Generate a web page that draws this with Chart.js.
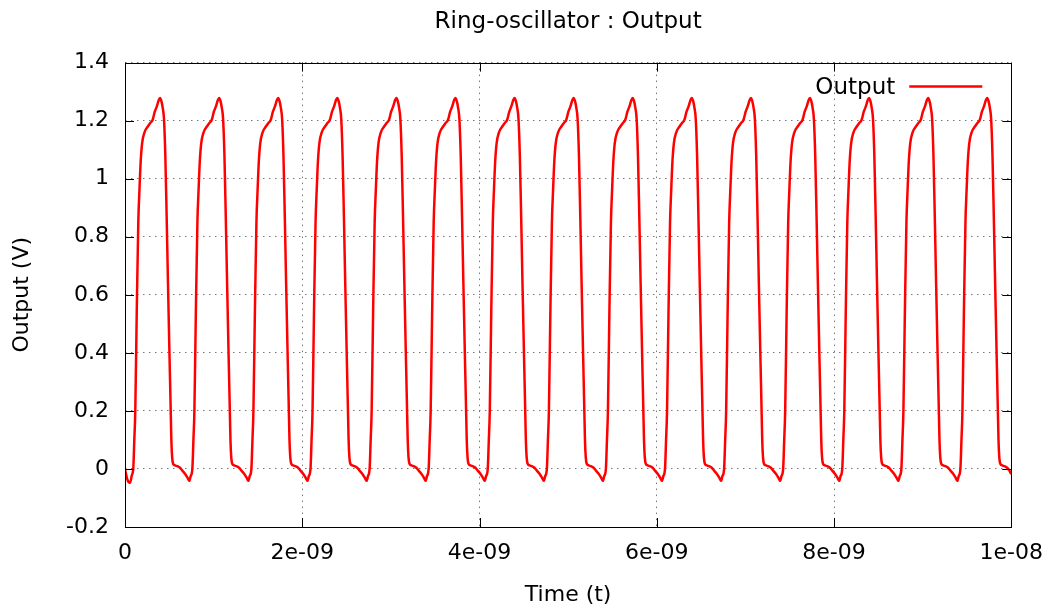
<!DOCTYPE html>
<html lang="en">
<head>
  <meta charset="UTF-8">
  <title>Ring-oscillator : Output</title>
  <script src="https://cdn.jsdelivr.net/npm/chart.js"></script>
  <style>
    body { margin: 0; background: #fff; }
    #wrap { width: 1056px; height: 610px; }
  </style>
</head>
<body>
  <div id="wrap"><canvas id="osc"></canvas></div>

  <script>
    // time axis runs in ns, labels printed in seconds like gnuplot does
    const xTickLabels = ["0", "2e-09", "4e-09", "6e-09", "8e-09", "1e-08"];
    const yTickLabels = ["-0.2", "0", "0.2", "0.4", "0.6", "0.8", "1", "1.2", "1.4"];

    // start-up dip before the first pulse (ns, V)
    const startTimes = [0, 0.025, 0.056, 0.072];
    const startVolts = [0, -0.035, -0.048, -0.03];

    // peak time of every pulse (ns)
    const peakTimes = [0.395, 1.062, 1.728, 2.395, 3.062, 3.728, 4.395, 5.062,
                       5.728, 6.395, 7.062, 7.728, 8.395, 9.062, 9.728];

    // shape of one pulse: offset from its peak (ns) and voltage (V)
    const pulseOffsets = [-0.336, -0.321, -0.302, -0.290, -0.279, -0.262, -0.245, -0.232,
                          -0.218, -0.202, -0.175, -0.140, -0.110, -0.084, -0.060, -0.037,
                          -0.015, 0, 0.015, 0.030, 0.045, 0.060, 0.075, 0.090, 0.105,
                          0.118, 0.128, 0.137, 0.148, 0.170, 0.200, 0.225, 0.250, 0.280, 0.310];
    const pulseVolts = [-0.041, -0.025, 0.0, 0.1, 0.2, 0.55, 0.85, 0.96,
                        1.06, 1.122, 1.16, 1.179, 1.192, 1.202, 1.23, 1.248,
                        1.27, 1.278, 1.268, 1.245, 1.205, 1.08, 0.87, 0.64, 0.42,
                        0.24, 0.1, 0.04, 0.018, 0.012, 0.009, 0.004, -0.005, -0.016, -0.03];

    const endTime = 10;
    const endVolt = -0.018;

    // assemble the trace
    const points = startTimes.map((t, i) => ({ x: t, y: startVolts[i] }));
    peakTimes.forEach((p) => {
      pulseOffsets.forEach((off, i) => {
        const t = +(p + off).toFixed(4);
        if (t > points[points.length - 1].x && t < endTime) points.push({ x: t, y: pulseVolts[i] });
      });
    });
    points.push({ x: endTime, y: endVolt });

    const FONT = "'DejaVu Sans', sans-serif";

    // gnuplot look: full border box, inward ticks, key inside top right
    const gnuplotFrame = {
      id: "gnuplotFrame",
      afterDatasetsDraw(chart) {
        const { ctx, chartArea: a, scales } = chart;
        ctx.save();
        ctx.strokeStyle = "#000";
        ctx.lineWidth = 1;
        ctx.beginPath();
        scales.x.ticks.forEach((t) => {
          const px = Math.round(scales.x.getPixelForValue(t.value)) + 0.5;
          ctx.moveTo(px, a.bottom); ctx.lineTo(px, a.bottom - 9);
          ctx.moveTo(px, a.top); ctx.lineTo(px, a.top + 9);
        });
        scales.y.ticks.forEach((t) => {
          const py = Math.round(scales.y.getPixelForValue(t.value)) + 0.5;
          ctx.moveTo(a.left, py); ctx.lineTo(a.left + 9, py);
          ctx.moveTo(a.right, py); ctx.lineTo(a.right - 9, py);
        });
        ctx.stroke();
        ctx.strokeRect(Math.round(a.left) + 0.5, Math.round(a.top) + 0.5,
                       Math.round(a.right - a.left), Math.round(a.bottom - a.top));

        // key
        const ds = chart.data.datasets[0];
        ctx.font = "23px " + FONT;
        ctx.fillStyle = "#000";
        ctx.textAlign = "right";
        ctx.textBaseline = "middle";
        ctx.fillText(ds.label, a.right - 116, a.top + 25);
        ctx.strokeStyle = ds.borderColor;
        ctx.lineWidth = 2.5;
        ctx.beginPath();
        ctx.moveTo(a.right - 102, a.top + 24);
        ctx.lineTo(a.right - 29, a.top + 24);
        ctx.stroke();
        ctx.restore();
      }
    };

    new Chart(document.getElementById("osc"), {
      type: "line",
      data: {
        datasets: [{
          label: "Output",
          data: points,
          borderColor: "#ff0000",
          borderWidth: 2.5,
          pointRadius: 0,
          cubicInterpolationMode: "monotone",
          fill: false
        }]
      },
      options: {
        responsive: true,
        maintainAspectRatio: false,
        animation: false,
        layout: { padding: { top: 0, right: 44, bottom: 0, left: 0 } },
        plugins: {
          legend: { display: false },
          tooltip: { enabled: false },
          title: {
            display: true,
            fullSize: false,
            text: "Ring-oscillator : Output",
            color: "#000",
            font: { family: FONT, size: 23, weight: "normal" },
            padding: { top: 8, bottom: 27 }
          }
        },
        scales: {
          x: {
            type: "linear",
            min: 0,
            max: 10,
            afterFit: (s) => { s.height = 83; },
            ticks: {
              stepSize: 2,
              maxRotation: 0,
              autoSkip: false,
              padding: 13,
              color: "#000",
              font: { family: FONT, size: 22 },
              callback: (v, i) => xTickLabels[i]
            },
            grid: { color: "#777", lineWidth: 1, drawTicks: false },
            border: { display: false, dash: [1.5, 4.5] },
            title: {
              display: true,
              text: "Time (t)",
              color: "#000",
              font: { family: FONT, size: 22 },
              padding: { top: 4, bottom: 2 }
            }
          },
          y: {
            min: -0.2,
            max: 1.4,
            afterFit: (s) => { s.width = 125; },
            ticks: {
              stepSize: 0.2,
              padding: 16,
              color: "#000",
              font: { family: FONT, size: 22 },
              callback: (v, i) => yTickLabels[i]
            },
            grid: { color: "#777", lineWidth: 1, drawTicks: false },
            border: { display: false, dash: [1.5, 4.5] },
            title: {
              display: true,
              text: "Output (V)",
              color: "#000",
              font: { family: FONT, size: 22 },
              padding: { top: 9, bottom: 0 }
            }
          }
        }
      },
      plugins: [gnuplotFrame]
    });
  </script>
</body>
</html>
